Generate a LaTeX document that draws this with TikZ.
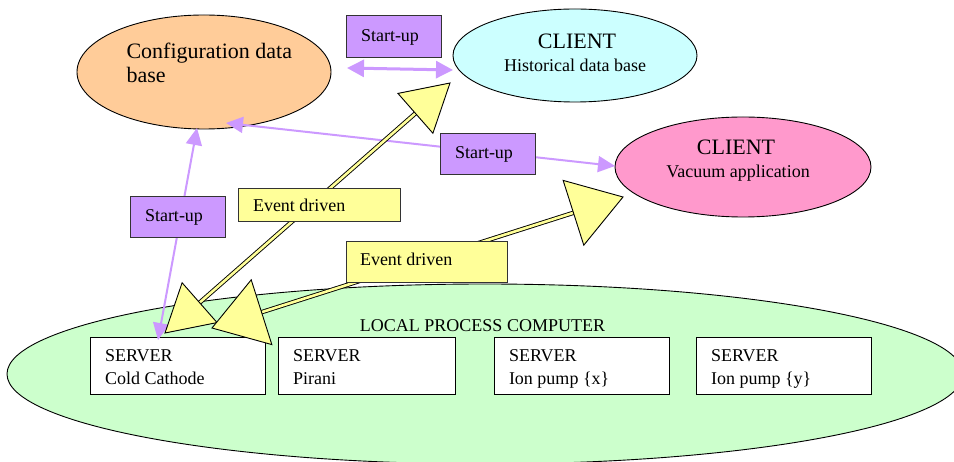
\documentclass[tikz,border=0pt]{standalone}
\usepackage{fontspec}
\setmainfont{Liberation Serif}
\usetikzlibrary{arrows.meta,shapes.geometric,calc}

\definecolor{cfgorange}{HTML}{FFCC99}
\definecolor{histcyan}{HTML}{CCFFFF}
\definecolor{vacpink}{HTML}{FF99CC}
\definecolor{lpcgreen}{HTML}{CCFFCC}
\definecolor{supurple}{HTML}{CC99FF}
\definecolor{evyellow}{HTML}{FFFF99}

\newcommand{\blockarrow}[4]{%
  \coordinate (ba1) at ($(#1)!#3!(#2)$);
  \coordinate (ba2) at ($(#2)!#3!(#1)$);
  \draw[evshaft] (ba1) -- (ba2);
  \draw[evhead] (#1) -- ($(ba1)!#4!90:(#1)$) -- ($(ba1)!#4!-90:(#1)$) -- cycle;
  \draw[evhead] (#2) -- ($(ba2)!#4!90:(#2)$) -- ($(ba2)!#4!-90:(#2)$) -- cycle;
}

\begin{document}
\begin{tikzpicture}[x=1pt,y=-1pt,
  every node/.style={inner sep=0pt, outer sep=0pt},
  ell/.style={ellipse, draw=black, line width=0.9pt, inner sep=0pt},
  srvbox/.style={rectangle, draw=black, line width=0.9pt, fill=white},
  subox/.style={rectangle, draw=black!80, line width=0.9pt, fill=supurple},
  evbox/.style={rectangle, draw=black!80, line width=0.9pt, fill=evyellow},
  txt/.style={anchor=base west, font=\fontsize{18}{22}\selectfont},
  ctxt/.style={anchor=base, font=\fontsize{18}{22}\selectfont},
  bigtxt/.style={anchor=base, font=\fontsize{22}{26}\selectfont},
  bigltxt/.style={anchor=base west, font=\fontsize{22}{26}\selectfont},
  suline/.style={draw=supurple, line width=2pt, {Triangle[length=17pt,width=16pt]}-{Triangle[length=17pt,width=16pt]}},
  sulinethick/.style={draw=supurple, line width=3pt, {Triangle[length=17pt,width=17pt]}-{Triangle[length=17pt,width=17pt]}},
  evshaft/.style={draw=black, line width=0.9pt, double=evyellow, double distance=2.6pt},
  evhead/.style={draw=black, line width=0.9pt, fill=evyellow, line join=miter}
]
\useasboundingbox (0,0) rectangle (954,462);
\clip (0,0) rectangle (954,462);
\fill[white] (0,0) rectangle (954,462);

% local process computer
\node[ell, fill=lpcgreen, minimum width=956pt, minimum height=180pt] (lpc) at (485,374) {};
\node[ctxt] (lpct) at (482.5,332) {LOCAL PROCESS COMPUTER};

% servers
\node[srvbox, minimum width=175pt, minimum height=57pt] (s1) at (177.5,365.5) {};
\node[srvbox, minimum width=177pt, minimum height=57pt] (s2) at (366.5,365.5) {};
\node[srvbox, minimum width=175pt, minimum height=57pt] (s3) at (581.5,365.5) {};
\node[srvbox, minimum width=175pt, minimum height=57pt] (s4) at (783.5,365.5) {};
\node[txt] (s1a) at (105,362) {SERVER};
\node[txt] (s1b) at (105,385) {Cold Cathode};
\node[txt] (s2a) at (293,362) {SERVER};
\node[txt] (s2b) at (293,385) {Pirani};
\node[txt] (s3a) at (509,362) {SERVER};
\node[txt] (s3b) at (509,385) {Ion pump \{x\}};
\node[txt] (s4a) at (711,362) {SERVER};
\node[txt] (s4b) at (711,385) {Ion pump \{y\}};

% ellipses
\node[ell, fill=cfgorange, minimum width=254pt, minimum height=114pt] (cfg) at (204,72) {};
\node[bigltxt] (cfga) at (126.5,59) {Configuration data};
\node[bigltxt] (cfgb) at (126.5,83) {base};

\node[ell, fill=histcyan, minimum width=244pt, minimum height=93pt] (hist) at (575,55.5) {};
\node[bigtxt] (hista) at (577,49) {CLIENT};
\node[ctxt] (histb) at (575,72) {Historical data base};

\node[ell, fill=vacpink, minimum width=256pt, minimum height=100pt] (vac) at (743,167) {};
\node[bigtxt] (vaca) at (736,155) {CLIENT};
\node[ctxt] (vacb) at (738,178) {Vacuum application};

% start-up connectors
\coordinate (suAl) at (347,68);
\coordinate (suAr) at (453,70);
\coordinate (suBl) at (226,123);
\coordinate (suBr) at (615,166);
\coordinate (suCb) at (158,340);
\coordinate (suCt) at (197,128);
\draw[sulinethick] (suAl) -- (suAr);
\draw[suline] (suBl) -- (suBr);
\draw[suline] (suCb) -- (suCt);

% event driven connectors
\coordinate (evDl) at (165,333);
\coordinate (evDu) at (450,83);
\coordinate (evEl) at (212,328);
\coordinate (evEu) at (623,197);
\blockarrow{evDl}{evDu}{46pt}{26.5pt}
\blockarrow{evEl}{evEu}{52pt}{34pt}

% label boxes
\node[subox, minimum width=95pt, minimum height=42pt] (suA) at (393.5,36) {};
\node[txt] (suAt) at (361,42) {Start-up};
\node[subox, minimum width=95pt, minimum height=41pt] (suB) at (487.5,153.5) {};
\node[txt] (suBt) at (455,159) {Start-up};
\node[subox, minimum width=95pt, minimum height=41pt] (suC) at (177.5,216.5) {};
\node[txt] (suCt2) at (145,222) {Start-up};
\node[evbox, minimum width=162pt, minimum height=33pt] (evD) at (319,204.5) {};
\node[txt] (evDt) at (253,212) {Event driven};
\node[evbox, minimum width=161pt, minimum height=41pt] (evE) at (426.5,262) {};
\node[txt] (evEt) at (360,266) {Event driven};
\end{tikzpicture}
\end{document}
